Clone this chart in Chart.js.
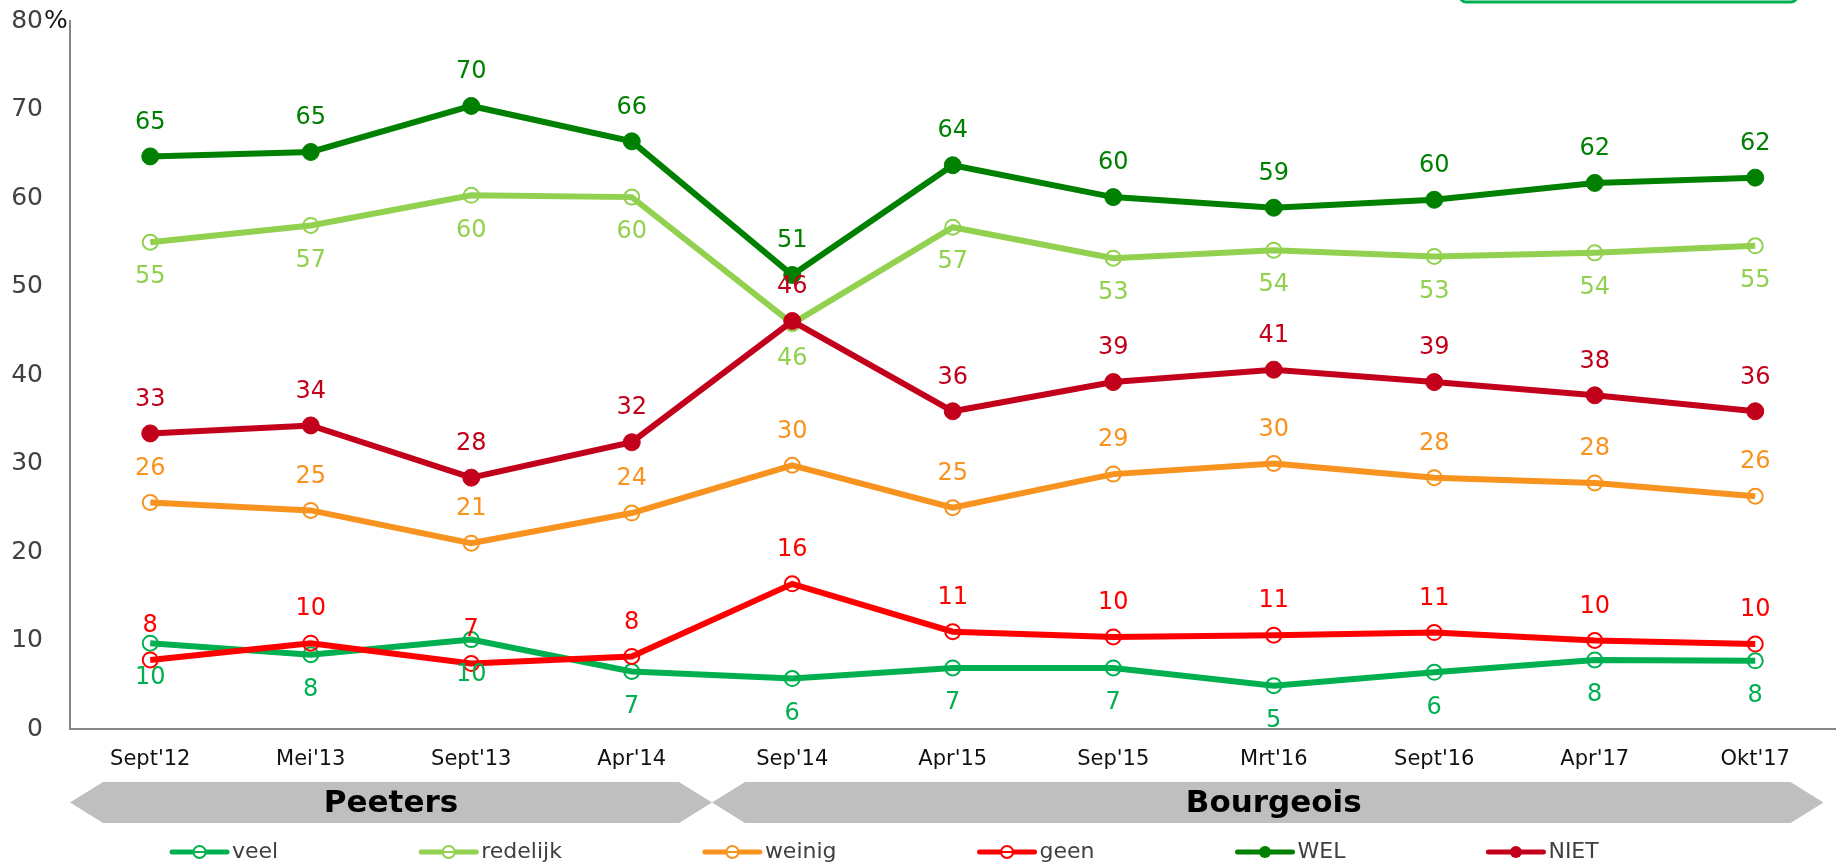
<!DOCTYPE html>
<html>
<head>
<meta charset="utf-8">
<script src="https://cdn.jsdelivr.net/npm/chart.js@4"></script>
<style>
  html, body { margin: 0; padding: 0; background: #fff; }
  #wrap { width: 1845px; height: 864px; }
</style>
</head>
<body>
<div id="wrap"><canvas id="chart" width="1845" height="864"></canvas></div>
<script>
// ---- data ----
const periods = ["Sept'12", "Mei'13", "Sept'13", "Apr'14", "Sep'14", "Apr'15", "Sep'15", "Mrt'16", "Sept'16", "Apr'17", "Okt'17"];
const veel     = [9.7, 8.4, 10.1, 6.5, 5.7, 6.9, 6.9, 4.9, 6.4, 7.8, 7.7];
const redelijk = [55.0, 56.9, 60.3, 60.1, 45.8, 56.7, 53.2, 54.1, 53.4, 53.8, 54.6];
const weinig   = [25.6, 24.7, 21.0, 24.4, 29.8, 25.0, 28.8, 30.0, 28.4, 27.8, 26.3];
const geen     = [7.8, 9.7, 7.4, 8.2, 16.4, 11.0, 10.4, 10.6, 10.9, 10.0, 9.6];
const wel      = [64.7, 65.2, 70.4, 66.4, 51.3, 63.7, 60.1, 58.9, 59.8, 61.7, 62.3];
const niet     = [33.4, 34.3, 28.4, 32.4, 46.1, 35.9, 39.2, 40.6, 39.2, 37.7, 35.9];

// periods under each minister (index ranges)
const ministers = [
    { name: 'Peeters', from: 0, to: 3 },
    { name: 'Bourgeois', from: 4, to: 10 }
];

const FONT = "'DejaVu Sans', Verdana, sans-serif";

function series(label, data, color, filled, labelPos, n) {
    return {
        label: label,
        data: data,
        borderColor: color,
        backgroundColor: color,
        borderWidth: 6,
        tension: 0,
        pointRadius: filled ? 8.5 : 7.5,
        pointBorderWidth: filled ? 1 : 2,
        pointBackgroundColor: filled ? color : 'rgba(0,0,0,0)',
        pointBorderColor: color,
        filledPoint: filled,
        labelPos: labelPos,
        order: n
    };
}

// ---- plugins ----
const valueLabels = {
    id: 'valueLabels',
    afterDatasetsDraw(chart) {
        const ctx = chart.ctx;
        ctx.save();
        ctx.font = '24px ' + FONT;
        ctx.textAlign = 'center';
        ctx.textBaseline = 'middle';
        chart.data.datasets.forEach((ds, i) => {
            const meta = chart.getDatasetMeta(i);
            ctx.fillStyle = ds.borderColor;
            meta.data.forEach((pt, j) => {
                const dy = ds.labelPos === 'above' ? -34 : 35;
                ctx.fillText(Math.round(ds.data[j]), pt.x, pt.y + dy);
            });
        });
        ctx.restore();
    }
};

const decorations = {
    id: 'decorations',
    afterDraw(chart) {
        const ctx = chart.ctx;
        const x = chart.scales.x;
        const y = chart.scales.y;
        const area = chart.chartArea;
        ctx.save();

        // "%" after the top tick
        ctx.font = '25px ' + FONT;
        ctx.fillStyle = '#111';
        ctx.textAlign = 'left';
        ctx.textBaseline = 'middle';
        ctx.fillText('%', 44, y.getPixelForValue(80));

        // minister banners
        const top = 782, bot = 823, mid = (top + bot) / 2, depth = 33;
        ministers.forEach((m, k) => {
            const left = k === 0 ? area.left : (x.getPixelForValue(m.from - 1) + x.getPixelForValue(m.from)) / 2;
            const right = k === ministers.length - 1 ? area.right - 12 : (x.getPixelForValue(m.to) + x.getPixelForValue(m.to + 1)) / 2;
            ctx.fillStyle = '#bfbfbf';
            ctx.beginPath();
            ctx.moveTo(left, mid);
            ctx.lineTo(left + depth, top);
            ctx.lineTo(right - depth, top);
            ctx.lineTo(right, mid);
            ctx.lineTo(right - depth, bot);
            ctx.lineTo(left + depth, bot);
            ctx.closePath();
            ctx.fill();
            const cx = (x.getPixelForValue(m.from) + x.getPixelForValue(m.to)) / 2;
            ctx.fillStyle = '#000';
            ctx.font = 'bold 31px ' + FONT;
            ctx.textAlign = 'center';
            ctx.fillText(m.name, cx, mid + 1);
        });

        // legend
        let lx = 172;
        const ly = 852;
        ctx.font = '22px ' + FONT;
        ctx.textAlign = 'left';
        chart.data.datasets.forEach(ds => {
            ctx.strokeStyle = ds.borderColor;
            ctx.lineWidth = 5;
            ctx.lineCap = 'round';
            ctx.beginPath();
            ctx.moveTo(lx, ly);
            ctx.lineTo(lx + 55, ly);
            ctx.stroke();
            ctx.beginPath();
            ctx.arc(lx + 27.5, ly, 6, 0, Math.PI * 2);
            if (ds.filledPoint) {
                ctx.fillStyle = ds.borderColor;
                ctx.fill();
            } else {
                ctx.lineWidth = 2;
                ctx.fillStyle = '#fff';
                ctx.fill();
                ctx.stroke();
                ctx.beginPath();
                ctx.moveTo(lx + 21, ly);
                ctx.lineTo(lx + 34, ly);
                ctx.stroke();
            }
            ctx.fillStyle = '#404040';
            ctx.fillText(ds.label, lx + 60, ly);
            lx += 60 + ctx.measureText(ds.label).width + 143;
        });

        // green box edge at the top right
        ctx.strokeStyle = '#00b050';
        ctx.lineWidth = 3;
        ctx.beginPath();
        ctx.roundRect(1460, -30, 337, 32, 6);
        ctx.stroke();

        ctx.restore();
    }
};

// ---- chart ----
new Chart(document.getElementById('chart'), {
    type: 'line',
    data: {
        labels: periods,
        datasets: [
            series('veel', veel, '#00b050', false, 'below', 6),
            series('redelijk', redelijk, '#92d050', false, 'below', 5),
            series('weinig', weinig, '#f7931e', false, 'above', 4),
            series('geen', geen, '#ff0000', false, 'above', 3),
            series('WEL', wel, '#008000', true, 'above', 2),
            series('NIET', niet, '#c3001b', true, 'above', 1)
        ]
    },
    options: {
        responsive: false,
        animation: false,
        layout: { padding: { top: 21, bottom: 85, left: 0, right: 0 } },
        plugins: {
            legend: { display: false },
            tooltip: { enabled: false }
        },
        scales: {
            x: {
                offset: true,
                grid: { display: false },
                border: { display: true, color: '#868686', width: 2 },
                ticks: {
                    color: '#111',
                    padding: 10,
                    maxRotation: 0,
                    font: { family: FONT, size: 21 }
                },
                afterFit: (scale) => { scale.height = 50; }
            },
            y: {
                min: 0,
                max: 80,
                grid: { display: false },
                border: { display: true, color: '#868686', width: 2 },
                ticks: {
                    stepSize: 10,
                    color: '#404040',
                    padding: 19,
                    font: { family: FONT, size: 25 }
                },
                afterFit: (scale) => {
                    scale.width = 70;
                    scale.paddingTop = 0;
                    scale.paddingBottom = 0;
                }
            }
        }
    },
    plugins: [valueLabels, decorations]
});
</script>
</body>
</html>
